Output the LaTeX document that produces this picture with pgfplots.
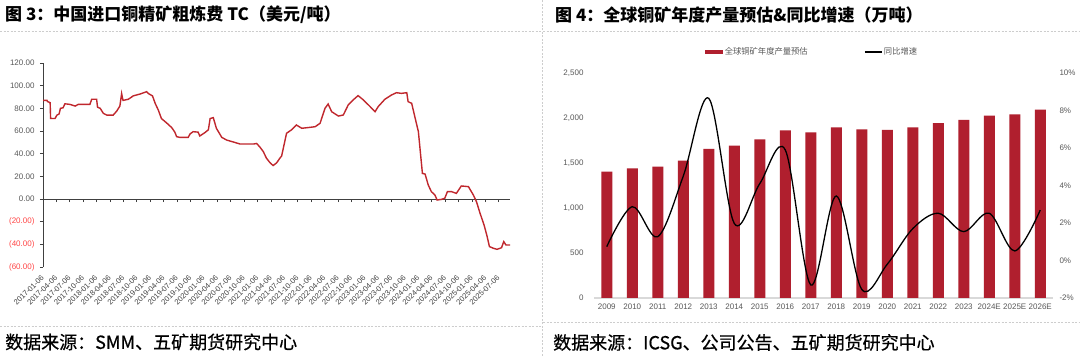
\documentclass[border=0pt]{standalone}
\usepackage{fontspec}
\usepackage{pgfplots}
\pgfplotsset{compat=1.18}
\setmainfont{Liberation Sans}
\newfontfamily\cjk{Noto Sans CJK SC}
\newfontfamily\cjkm{Noto Sans CJK SC}[FakeBold=0.6]
\definecolor{tcred}{RGB}{192,39,45}
\definecolor{barred}{RGB}{176,31,46}
\definecolor{axgray}{RGB}{64,64,64}
\definecolor{txtgray}{RGB}{89,89,89}
\definecolor{dashgray}{RGB}{205,205,205}
\definecolor{baseln}{RGB}{217,217,217}
\definecolor{negred}{RGB}{255,70,70}
\newcommand{\tfont}{\cjk\bfseries\fontsize{17bp}{20bp}\selectfont}
\newcommand{\sfont}{\cjkm\fontsize{18bp}{21bp}\selectfont}
\newcommand{\tkfont}{\fontsize{8bp}{9bp}\selectfont}
\newcommand{\dfont}{\fontsize{7.6bp}{9bp}\selectfont}
\begin{document}
\begin{tikzpicture}
\fill[white] (0,0) rectangle (1080bp,356bp);
\useasboundingbox (0,0) rectangle (1080bp,356bp);
% frames
\draw[dashgray, line width=0.8bp, dash pattern=on 2bp off 1.5bp] (0,325bp) -- (541bp,325bp);
\draw[dashgray, line width=0.8bp, dash pattern=on 2bp off 1.5bp] (0,30bp) -- (541bp,30bp);
\draw[dashgray, line width=0.8bp, dash pattern=on 2bp off 1.5bp] (543bp,325bp) -- (1080bp,325bp);
\draw[dashgray, line width=0.8bp, dash pattern=on 2bp off 1.5bp] (543bp,34bp) -- (1080bp,34bp);
\draw[dashgray, line width=0.8bp, dash pattern=on 2bp off 1.5bp] (542bp,0) -- (542bp,356bp);
% titles
\node[anchor=west, inner sep=0pt] at (5bp,341.5bp) {\tfont 图 3：中国进口铜精矿粗炼费 TC（美元/吨）};
\node[anchor=west, inner sep=0pt] at (555bp,340.5bp) {\tfont 图 4：全球铜矿年度产量预估\&同比增速（万吨）};
\node[anchor=west, inner sep=0pt] at (5bp,14bp) {\sfont 数据来源：SMM、五矿期货研究中心};
\node[anchor=west, inner sep=0pt] at (553bp,13.5bp) {\sfont 数据来源：ICSG、公司公告、五矿期货研究中心};

% ---------- left chart ----------
\begin{axis}[
  at={(43bp,89bp)}, anchor=south west,
  scale only axis, width=467bp, height=204bp,
  xmin=0, xmax=104.5, ymin=-60, ymax=120,
  axis x line=middle, axis y line=left,
  axis line style={-, draw=axgray, line width=0.9bp},
  hide obscured x ticks=false, hide obscured y ticks=false,
  tick align=outside, major tick length=3bp,
  tick style={axgray, line width=0.8bp},
  xtick style={axgray, line width=0.8bp},
  xtick={0,3,...,102},
  xticklabels={2017-01-06,2017-04-06,2017-07-06,2017-10-06,2018-01-06,2018-04-06,2018-07-06,2018-10-06,2019-01-06,2019-04-06,2019-07-06,2019-10-06,2020-01-06,2020-04-06,2020-07-06,2020-10-06,2021-01-06,2021-04-06,2021-07-06,2021-10-06,2022-01-06,2022-04-06,2022-07-06,2022-10-06,2023-01-06,2023-04-06,2023-07-06,2023-10-06,2024-01-06,2024-04-06,2024-07-06,2024-10-06,2025-01-06,2025-04-06,2025-07-06},
  xticklabel shift=74bp,
  xticklabel style={rotate=45, anchor=east, font=\dfont, text=axgray, inner sep=0.5bp},
  ytick={-60,-40,...,120},
  yticklabels={\textcolor{negred}{(60.00)},\textcolor{negred}{(40.00)},\textcolor{negred}{(20.00)},0.00,20.00,40.00,60.00,80.00,100.00,120.00},
  yticklabel style={font=\tkfont, text=txtgray, xshift=-2bp},
  clip=false,
]
\addplot[tcred, line width=1.4bp] coordinates {
(0,87) (0.9,87) (1.0,86) (1.6,85) (1.7,71) (2.7,71) (3.1,74) (3.6,75) (3.9,80) (4.5,80.5) (4.9,84) (6.0,83.5) (7.2,82) (7.9,83.5) (10.5,83.5) (10.9,88) (12.0,88) (12.2,81) (12.8,80) (13.5,75.6) (14.3,74) (15.7,74) (16.5,77.6) (17.2,82) (17.6,93) (17.9,87) (19.1,88) (20.2,91) (21.7,92.6) (23.2,94.7) (23.6,93) (24.5,91) (25.1,84.4) (25.8,78.5) (26.5,71) (27.7,67) (28.8,63) (29.5,59) (29.9,55) (30.6,54.4) (32.5,54.4) (32.9,57.4) (33.6,59.4) (34.7,59) (35.1,55.6) (36.2,58.5) (37.0,61) (37.4,71) (38.1,71.8) (38.8,62.4) (40.0,54.4) (41.1,52) (42.6,50.3) (44.1,48.5) (47.1,48.5) (47.8,49) (48.5,46) (49.3,41.8) (50.0,36) (50.8,32) (51.5,29.5) (52.3,32) (53.0,36)
(53.4,38) (54.5,58) (55.6,61) (56.7,65.3) (57.9,62.4) (59.7,63.2) (60.9,63.8) (62.0,66.8) (63.1,80) (63.8,83.8) (64.6,77) (66.1,73.2) (67.2,74.1) (68.3,83) (69.4,87.4) (70.5,91.2) (71.7,87.4) (73.2,81.5) (74.3,77) (75.0,81.5) (76.5,88) (78.0,91.8) (79.1,93.8) (80.2,93.2) (81.4,93.8) (81.7,85.9) (82.5,84.4) (83.2,72.6) (84.0,59.4) (84.4,43) (84.9,22.6) (85.5,22) (86.2,12.4) (86.9,6.5) (87.7,3.5) (88.2,-0.9) (89.2,-0.3) (89.9,0.6) (90.5,6.5) (91.4,6.5) (92.5,5) (93.6,11.5) (95.2,10.9) (96.3,3.5) (97.0,-2.4) (97.8,-12.6) (98.7,-23) (99.3,-31.8) (99.9,-42) (100.8,-43.5) (101.6,-44.4) (102.6,-43) (103.1,-37.6) (103.6,-40.6) (104.5,-40.6)
};
\end{axis}

% ---------- right chart: bars ----------
\begin{axis}[
  at={(594bp,58bp)}, anchor=south west,
  scale only axis, width=459bp, height=225bp,
  xmin=-0.5, xmax=17.5, ymin=0, ymax=2500,
  axis x line*=bottom, axis y line*=left,
  x axis line style={-, draw=baseln, line width=1.2bp},
  y axis line style={draw=none},
  major tick length=0pt,
  xtick={0,...,17},
  xticklabels={2009,2010,2011,2012,2013,2014,2015,2016,2017,2018,2019,2020,2021,2022,2023,2024E,2025E,2026E},
  xticklabel style={font=\tkfont, text=txtgray, yshift=-2bp},
  ytick={0,500,...,2500},
  yticklabels={0,500,{1,000},{1,500},{2,000},{2,500}},
  yticklabel style={font=\tkfont, text=txtgray, xshift=-7bp},
  legend style={at={(0.242,1.093)}, anchor=west, draw=none, fill=none, inner sep=0pt,
    font=\cjk\fontsize{8.3bp}{9bp}\selectfont, text=txtgray, legend columns=2,
    /tikz/every even column/.append style={column sep=55bp},
    nodes={inner sep=1.5bp}},
  clip=false,
]
\addplot[ybar, bar width=11bp, fill=barred, draw=none,
  legend image code/.code={\fill[barred] (0bp,-1.7bp) rectangle (18bp,1.7bp);}] coordinates {
(0,1404) (1,1441) (2,1459) (3,1526) (4,1656) (5,1693) (6,1763) (7,1863) (8,1841) (9,1896) (10,1874) (11,1867) (12,1896) (13,1944) (14,1978) (15,2026) (16,2041) (17,2093)
};
\addlegendentry{全球铜矿年度产量预估}
\addlegendimage{legend image code/.code={\draw[black, line width=1.2bp] (0bp,0bp) -- (17bp,0bp);}}
\addlegendentry{同比增速}
\end{axis}

% ---------- right chart: growth line ----------
\begin{axis}[
  at={(594bp,58bp)}, anchor=south west,
  scale only axis, width=459bp, height=225bp,
  xmin=-0.5, xmax=17.5, ymin=-2, ymax=10,
  axis y line*=right, axis x line=none,
  y axis line style={draw=none},
  major tick length=0pt,
  ytick={-2,0,...,10},
  yticklabels={-2\%,0\%,2\%,4\%,6\%,8\%,10\%},
  yticklabel style={font=\tkfont, text=txtgray, xshift=3bp},
  clip=false,
]
\addplot[black, line width=1.3bp, smooth, tension=0.55] coordinates {
(0,0.74) (1,2.87) (2,1.27) (3,4.5) (4,8.65) (5,1.98) (6,4.1) (7,5.9) (8,-1.3) (9,3.44) (10,-1.54) (11,-0.2) (12,1.7) (13,2.52) (14,1.54) (15,2.52) (16,0.51) (17,2.69)
};
\end{axis}
\end{tikzpicture}
\end{document}
